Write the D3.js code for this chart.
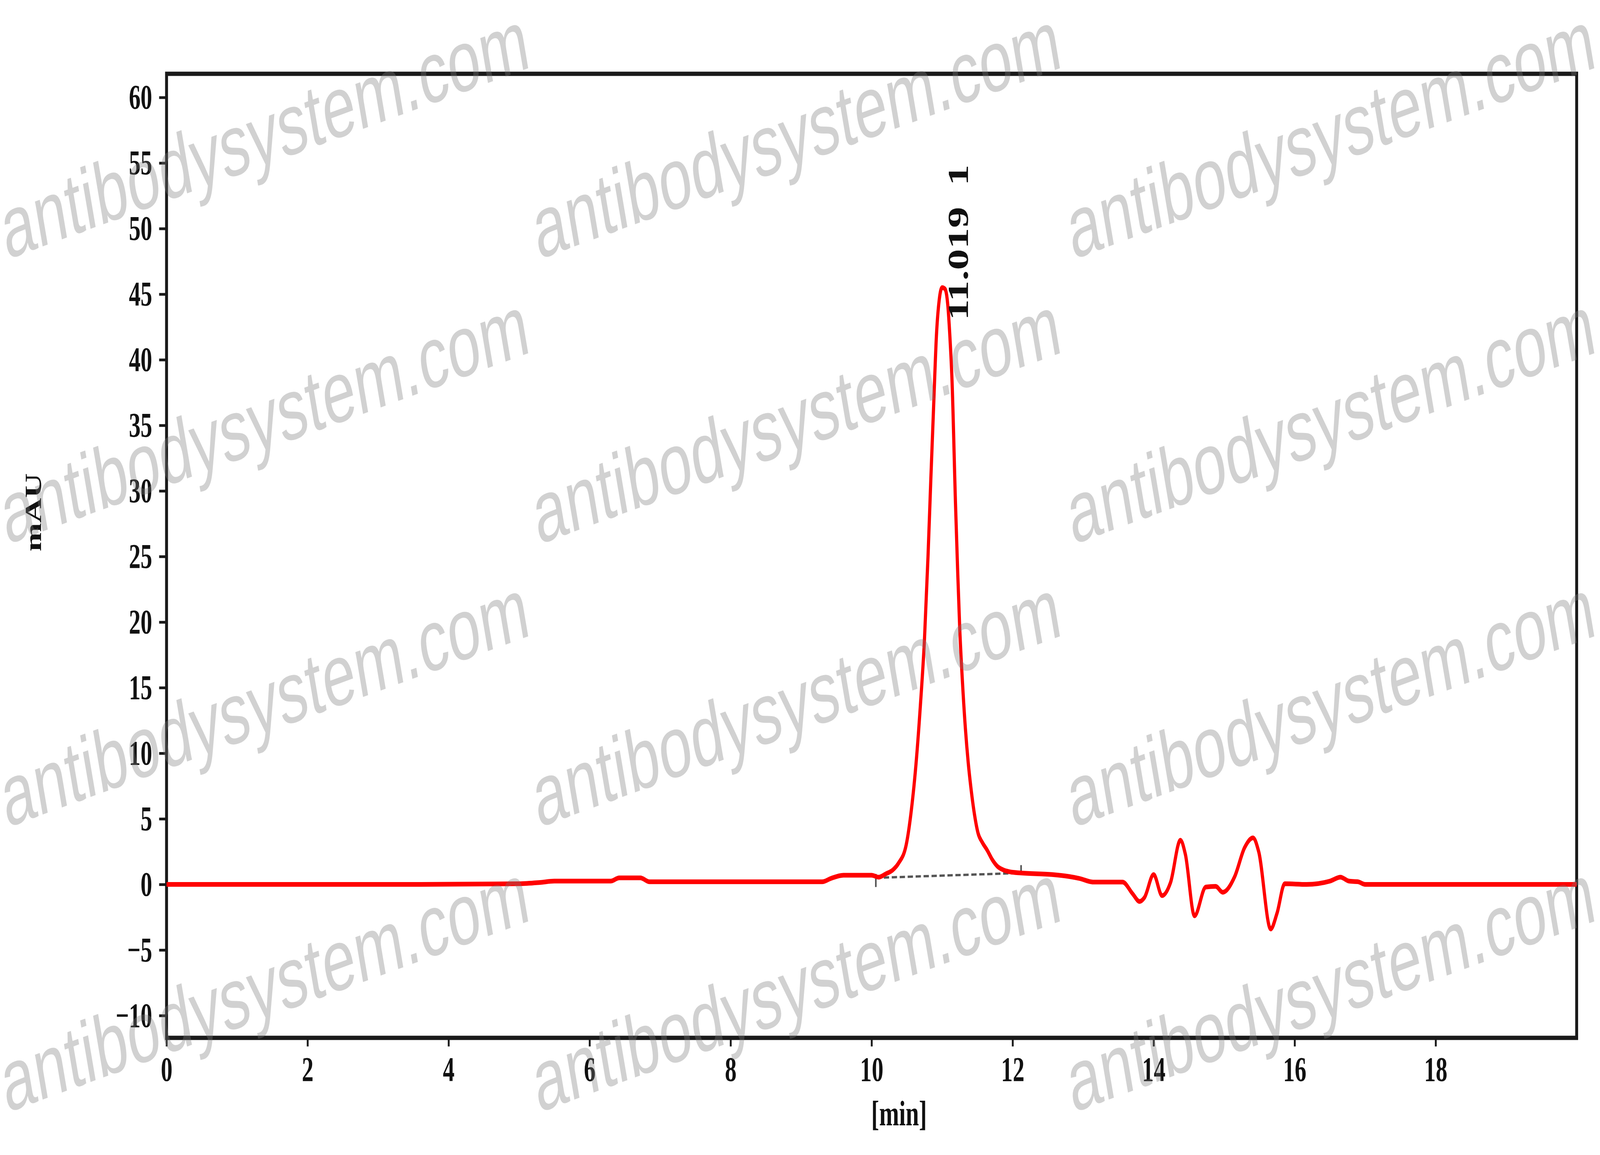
<!DOCTYPE html>
<html>
  <head>
    <meta charset="utf-8">
    <title>Chromatogram mAU vs min</title>
    <script src="https://cdn.jsdelivr.net/npm/d3@7"></script>
    <style>
      html, body { margin: 0; padding: 0; background: #fff; overflow: hidden; }
      #chart { display: block; width: 100vw; height: 100vh; }
    </style>
  </head>
  <body>
    <svg id="chart"></svg>
   <script>
// retention time (min) and absorbance (mAU)
var times = [0, 3.6, 5.0, 5.3, 5.5, 6.3, 6.42, 6.72, 6.85, 9.3, 9.42, 9.6, 10.0, 10.1, 10.2, 10.3, 10.38,
  10.49, 10.56, 10.63, 10.69, 10.75, 10.8, 10.84, 10.88, 10.92, 10.96, 11.0, 11.04, 11.08, 11.11, 11.14,
  11.19, 11.22, 11.25, 11.29, 11.33, 11.37, 11.41, 11.46, 11.51, 11.57, 11.64, 11.71, 11.78, 11.87, 11.96,
  12.12, 12.56, 12.8, 12.95, 13.14, 13.56, 13.7, 13.8, 13.87, 14.0, 14.12, 14.24, 14.38, 14.45, 14.58,
  14.74, 14.88, 14.98, 15.15, 15.29, 15.41, 15.49, 15.66, 15.75, 15.86, 16.17, 16.5, 16.65, 16.77, 16.9,
  17.0, 20.0];
var mAU = [0, 0, 0.05, 0.15, 0.25, 0.25, 0.5, 0.5, 0.2, 0.2, 0.45, 0.7, 0.7, 0.55, 0.8, 1.1, 1.6,
  3.0, 5.5, 9.2, 13.5, 18.7, 25.0, 30.9, 36.5, 41.9, 44.6, 45.5, 45.4, 44.2, 41.8, 38.5,
  29.0, 24.0, 19.5, 15.3, 11.9, 9.3, 7.3, 5.3, 3.9, 3.2, 2.6, 1.9, 1.4, 1.1, 0.96,
  0.87, 0.75, 0.6, 0.45, 0.18, 0.18, -0.7, -1.3, -1.0, 0.75, -0.86, 0.15, 3.37, 2.3, -2.4,
  -0.2, -0.15, -0.6, 0.6, 2.8, 3.55, 2.5, -3.4, -2.2, 0.05, 0.0, 0.25, 0.55, 0.25, 0.2,
  0.0, 0.0];

var xTicks = [0, 2, 4, 6, 8, 10, 12, 14, 16, 18];
var yTicks = [-10, -5, 0, 5, 10, 15, 20, 25, 30, 35, 40, 45, 50, 55, 60];

var peakLabel = "11.019  1";
var peakTime = 11.019;
var peakHeight = 45.5;

// integration baseline under the peak
var baseTimes = [10.06, 12.12];
var baseValues = [0.5, 0.87];

var watermark = "antibodysystem.com";

var W = 6033, H = 2958;
var plotLeft = 628, plotRight = 5945, plotTop = 189, plotBottom = 2658;

var svg = d3.select("#chart")
  .attr("viewBox", "0 0 " + W + " " + H)
  .attr("preserveAspectRatio", "none");

svg.append("rect")
  .attr("width", W)
  .attr("height", H)
  .style("fill", "#fff");

var xScale = d3.scaleLinear()
  .domain([0, 20])
  .range([plotLeft, plotRight]);

var yScale = d3.scaleLinear()
  .domain([-11.7, 61.8])
  .range([plotBottom, plotTop]);

var xAxis = d3.axisBottom(xScale)
  .tickValues(xTicks)
  .tickSize(22)
  .tickPadding(26)
  .tickFormat(d3.format("d"));

var yAxis = d3.axisLeft(yScale)
  .tickValues(yTicks)
  .tickSize(28)
  .tickPadding(26)
  .tickFormat(d3.format("d"));

svg.append("g")
  .attr("transform", "translate(0," + plotBottom + ")")
  .call(xAxis);

svg.append("g")
  .attr("transform", "translate(" + plotLeft + ",0)")
  .call(yAxis);

svg.selectAll(".domain").remove();
svg.selectAll(".tick line")
  .style("stroke", "#1a1a1a")
  .style("stroke-width", 7);
svg.selectAll(".tick text")
  .style("font-family", "'Liberation Serif', 'Times New Roman', serif")
  .style("font-weight", "bold")
  .style("font-size", "88px")
  .style("fill", "#111");

// frame around the plot
svg.append("rect")
  .attr("x", plotLeft)
  .attr("y", plotTop)
  .attr("width", plotRight - plotLeft)
  .attr("height", plotBottom - plotTop)
  .style("fill", "none")
  .style("stroke", "#1a1a1a")
  .style("stroke-width", 11);

// dashed baseline with its end marks
var line = d3.line()
  .x(function(d) { return xScale(d[0]); })
  .y(function(d) { return yScale(d[1]); });

svg.append("path")
  .datum(d3.zip(baseTimes, baseValues))
  .attr("d", line)
  .style("fill", "none")
  .style("stroke", "#555")
  .style("stroke-width", 6)
  .style("stroke-dasharray", "20,10");

svg.append("line")
  .attr("x1", xScale(baseTimes[0])).attr("x2", xScale(baseTimes[0]))
  .attr("y1", yScale(baseValues[0] + 0.3)).attr("y2", yScale(baseValues[0] - 0.7))
  .style("stroke", "#555").style("stroke-width", 6);

svg.append("line")
  .attr("x1", xScale(baseTimes[1])).attr("x2", xScale(baseTimes[1]))
  .attr("y1", yScale(baseValues[1] - 0.1)).attr("y2", yScale(baseValues[1] + 0.6))
  .style("stroke", "#555").style("stroke-width", 6);

// the trace
var trace = d3.line()
  .x(function(d) { return xScale(d[0]); })
  .y(function(d) { return yScale(d[1]); })
  .curve(d3.curveMonotoneX);

svg.append("path")
  .datum(d3.zip(times, mAU))
  .attr("d", trace)
  .style("fill", "none")
  .style("stroke", "#ff0000")
  .style("stroke-width", 12)
  .style("stroke-linejoin", "round");

// peak label
svg.append("text")
  .attr("transform", "translate(" + (xScale(peakTime) + 92) + "," + (yScale(peakHeight) + 84) + ") rotate(-90)")
  .style("font-family", "'Liberation Serif', 'Times New Roman', serif")
  .style("font-weight", "bold")
  .style("font-size", "108px")
  .style("white-space", "pre")
  .style("fill", "#111")
  .text(peakLabel);

// axis labels
svg.append("text")
  .attr("x", 3390)
  .attr("y", 2882)
  .attr("text-anchor", "middle")
  .style("font-family", "'Liberation Serif', 'Times New Roman', serif")
  .style("font-weight", "bold")
  .style("font-size", "90px")
  .style("fill", "#111")
  .text("[min]");

svg.append("text")
  .attr("transform", "translate(155,1312) rotate(-90)")
  .attr("text-anchor", "middle")
  .style("font-family", "'Liberation Serif', 'Times New Roman', serif")
  .style("font-weight", "bold")
  .style("font-size", "88px")
  .style("fill", "#111")
  .text("mAU");

// watermark grid over everything
var wmCols = [25, 2030, 4045];
var wmRows = [665, 1395, 2120, 2850];
wmRows.forEach(function(ry) {
  wmCols.forEach(function(cx) {
    svg.append("text")
      .attr("transform", "translate(" + cx + "," + ry + ") rotate(-14)")
      .style("font-family", "'Liberation Sans', Arial, sans-serif")
      .style("font-size", "224px")
      .style("fill", "#7a7a7a")
      .style("fill-opacity", 0.35)
      .style("pointer-events", "none")
      .text(watermark);
  });
});
   </script>
  </body>
</html>
